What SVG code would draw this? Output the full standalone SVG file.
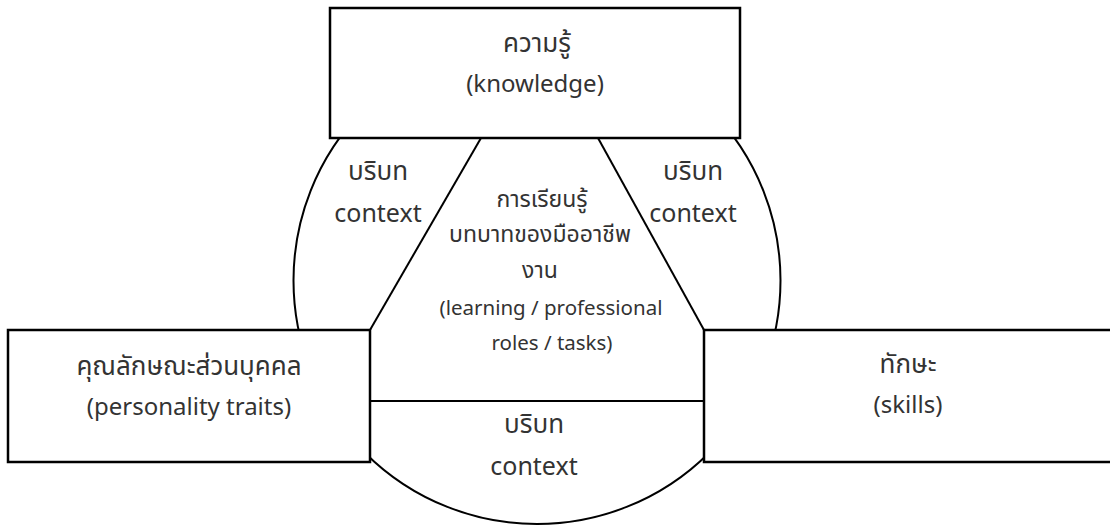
<svg xmlns="http://www.w3.org/2000/svg" width="1110" height="525" viewBox="0 0 1110 525">
  <style>
    .box { fill: #ffffff; stroke: #000000; stroke-width: 2.5; }
    .ln { fill: none; stroke: #000000; stroke-width: 2; }
    text { font-family: "Noto Sans", "Noto Sans Thai", "DejaVu Sans", sans-serif; font-size: 24px; fill: #333333; text-anchor: middle; }
    .th { font-size: 26px; }
    .ctx { font-size: 25px; }
    .mid { font-size: 23px; }
    .mid-en { font-size: 20.5px; }
  </style>

  <rect x="0" y="0" width="1110" height="525" fill="#ffffff"/>

  <!-- outer context circle -->
  <g id="context-circle">
    <circle cx="537" cy="280.5" r="243.5" fill="#ffffff" stroke="#000000" stroke-width="2"/>
  </g>

  <!-- dividing lines inside the circle -->
  <g id="connectors">
    <line class="ln" x1="481" y1="138" x2="370" y2="330"/>
    <line class="ln" x1="598" y1="138" x2="704" y2="330"/>
    <line class="ln" x1="370" y1="401" x2="704" y2="401"/>
  </g>

  <!-- context labels -->
  <g id="context-left">
    <text class="th" x="378" y="180">บริบท</text>
    <text class="ctx" x="378" y="222">context</text>
  </g>
  <g id="context-right">
    <text class="th" x="693" y="180">บริบท</text>
    <text class="ctx" x="693" y="222">context</text>
  </g>
  <g id="context-bottom">
    <text class="th" x="534" y="433">บริบท</text>
    <text class="ctx" x="534" y="475">context</text>
  </g>

  <!-- centre: learning / roles / tasks -->
  <g id="learning">
    <text class="mid" x="542" y="207">การเรียนรู้</text>
    <text class="mid" x="540" y="242">บทบาทของมืออาชีพ</text>
    <text class="mid" x="540" y="278">งาน</text>
    <text class="mid-en" x="551" y="315">(learning / professional</text>
    <text class="mid-en" x="552" y="350">roles / tasks)</text>
  </g>

  <!-- knowledge -->
  <g id="knowledge">
    <rect class="box" x="330" y="8" width="410" height="130"/>
    <text class="th" x="537" y="52">ความรู้</text>
    <text x="535" y="92">(knowledge)</text>
  </g>

  <!-- personality traits -->
  <g id="personality">
    <rect class="box" x="8" y="330" width="362" height="132"/>
    <text class="th" x="189" y="375">คุณลักษณะส่วนบุคคล</text>
    <text x="189" y="415">(personality traits)</text>
  </g>

  <!-- skills -->
  <g id="skills">
    <rect class="box" x="704" y="330" width="410" height="132"/>
    <text class="th" x="908" y="373">ทักษะ</text>
    <text x="908" y="413">(skills)</text>
  </g>
</svg>
